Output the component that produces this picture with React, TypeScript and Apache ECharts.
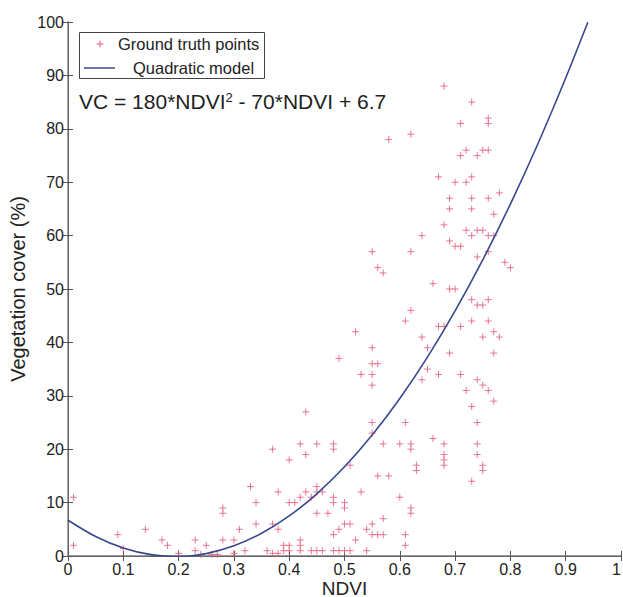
import React, { useEffect, useRef } from "react";
import * as echarts from "echarts";

// Ground truth points: [NDVI, Vegetation cover %]
const groundTruthPoints: number[][] = [
  [0.01, 11], [0.01, 2], [0.09, 4], [0.1, 1.4], [0.14, 5], [0.17, 3], [0.18, 2], [0.2, 0.5],
  [0.23, 3], [0.23, 1], [0.24, 0.3], [0.25, 2], [0.26, 0.3], [0.27, 0.3],
  [0.28, 9], [0.28, 8], [0.28, 3], [0.3, 3], [0.31, 5], [0.32, 1], [0.3, 0.5],
  [0.33, 13], [0.34, 10], [0.34, 6],
  [0.37, 20], [0.38, 12], [0.37, 6], [0.38, 5], [0.36, 1], [0.37, 0.5], [0.38, 0.5],
  [0.39, 2], [0.39, 1], [0.4, 2], [0.4, 1], [0.4, 18], [0.4, 10], [0.41, 10], [0.42, 11], [0.42, 21], [0.42, 3], [0.42, 2], [0.42, 1],
  [0.43, 19], [0.43, 12], [0.43, 27], [0.44, 11], [0.44, 1], [0.45, 13], [0.45, 12], [0.45, 21], [0.45, 8], [0.45, 1], [0.46, 12], [0.46, 1], [0.47, 8],
  [0.48, 21], [0.48, 20], [0.48, 11], [0.48, 10], [0.48, 4], [0.49, 5], [0.48, 1],
  [0.5, 10], [0.5, 9], [0.5, 6], [0.5, 1], [0.49, 1], [0.51, 6], [0.51, 1], [0.51, 17], [0.52, 3],
  [0.49, 37], [0.52, 42], [0.53, 34], [0.53, 12], [0.54, 5], [0.54, 1],
  [0.55, 39], [0.55, 36], [0.55, 34], [0.55, 32], [0.55, 25], [0.55, 23], [0.55, 6], [0.55, 4], [0.55, 57], [0.56, 36], [0.56, 15], [0.56, 4], [0.56, 54], [0.57, 53],
  [0.57, 21], [0.57, 7], [0.57, 4], [0.58, 15], [0.58, 78],
  [0.6, 21], [0.6, 11], [0.61, 25], [0.61, 44], [0.61, 4], [0.61, 2], [0.62, 46], [0.62, 21], [0.62, 20], [0.62, 9], [0.62, 8], [0.62, 57], [0.62, 79],
  [0.63, 17], [0.63, 16], [0.64, 60], [0.64, 41], [0.64, 33], [0.65, 39], [0.65, 35],
  [0.66, 51], [0.66, 22], [0.67, 71], [0.67, 43], [0.67, 34],
  [0.68, 88], [0.68, 62], [0.68, 43], [0.68, 21], [0.68, 19], [0.68, 18], [0.68, 17],
  [0.69, 67], [0.69, 65], [0.69, 59], [0.69, 50], [0.69, 38],
  [0.7, 70], [0.7, 58], [0.71, 58], [0.7, 50], [0.71, 81], [0.71, 75], [0.71, 43], [0.71, 34],
  [0.72, 76], [0.72, 70], [0.72, 61], [0.72, 31],
  [0.73, 85], [0.73, 71], [0.73, 67], [0.73, 65], [0.73, 60], [0.73, 48], [0.73, 44], [0.73, 28], [0.73, 14],
  [0.74, 75], [0.74, 61], [0.74, 56], [0.74, 47], [0.74, 33], [0.74, 25], [0.74, 21], [0.74, 19],
  [0.75, 76], [0.75, 61], [0.75, 47], [0.75, 41], [0.75, 32], [0.75, 17], [0.75, 16],
  [0.76, 82], [0.76, 81], [0.76, 76], [0.76, 67], [0.76, 60], [0.76, 57], [0.76, 48], [0.76, 44], [0.76, 31],
  [0.77, 64], [0.77, 60], [0.77, 42], [0.77, 38], [0.77, 29],
  [0.78, 68], [0.78, 41], [0.79, 55], [0.8, 54],
];

// Quadratic model curve as drawn
const modelNdvi: number[] = [0, 0.05, 0.1, 0.15, 0.2, 0.25, 0.3, 0.35, 0.4, 0.45, 0.5, 0.55, 0.6, 0.65, 0.7, 0.75, 0.8, 0.85, 0.9, 0.94];
const modelCover: number[] = [6.7, 3.65, 1.5, 0.25, -0.1, 0.45, 1.9, 4.25, 7.5, 11.65, 16.7, 22.65, 29.5, 37.25, 45.9, 55.45, 65.9, 77.25, 89.5, 99.95];

const legendLabels = ["Ground truth points", "Quadratic model"];
const equationText = "VC = 180*NDVI{sup|2} - 70*NDVI + 6.7";

const POINT_COLOR = "#e4587a";
const LINE_COLOR = "#38488e";
const FONT = "'Liberation Sans', Arial, Helvetica, sans-serif";

export default function App() {
  const ref = useRef<HTMLDivElement>(null);
  useEffect(() => {
    if (!ref.current) return;
    const chart = echarts.init(ref.current, null, { renderer: "svg" });
    const tickStyle = { inside: true, length: 5, lineStyle: { color: "#555" } };
    const lineStyleAxis = { show: true, lineStyle: { color: "#666", width: 1 } };
    chart.setOption({
      animation: false,
      backgroundColor: "#fff",
      grid: { left: 68, right: 2, top: 22, bottom: 41, containLabel: false, outerBoundsMode: "none" },
      xAxis: [
        {
          type: "value", min: 0, max: 1, interval: 0.1, position: "bottom",
          name: "NDVI", nameLocation: "middle", nameGap: 23, nameMoveOverlap: false,
          nameTextStyle: { fontFamily: FONT, fontSize: 19, lineHeight: 18, color: "#222", verticalAlign: "top" },
          axisLine: { show: true, lineStyle: { color: "#999", width: 2 } },
          axisTick: tickStyle,
          axisLabel: {
            fontFamily: FONT, fontSize: 16, lineHeight: 17, color: "#222", margin: 5, alignMaxLabel: "right",
            formatter: (v: number) => String(+v.toFixed(1)),
          },
          splitLine: { show: false },
        },
        {
          type: "value", min: 0, max: 1, interval: 0.1, position: "top",
          axisLine: lineStyleAxis, axisTick: tickStyle, axisLabel: { show: false }, splitLine: { show: false },
        },
      ],
      yAxis: [
        {
          type: "value", min: 0, max: 100, interval: 10, position: "left",
          name: "Vegetation cover (%)", nameLocation: "middle", nameGap: 40, nameMoveOverlap: false,
          nameTextStyle: { fontFamily: FONT, fontSize: 20, color: "#222" },
          axisLine: { show: true, lineStyle: { color: "#888", width: 1.5 } },
          axisTick: tickStyle,
          axisLabel: { fontFamily: FONT, fontSize: 16, color: "#222", margin: 4 },
          splitLine: { show: false },
        },
        {
          type: "value", min: 0, max: 100, interval: 10, position: "right",
          axisLine: lineStyleAxis, axisTick: tickStyle, axisLabel: { show: false }, splitLine: { show: false },
        },
      ],
      series: [
        {
          name: legendLabels[0],
          type: "scatter",
          data: groundTruthPoints,
          symbol: "path://M5,0L5,10M0,5L10,5",
          symbolSize: 7,
          itemStyle: { color: "none", borderColor: POINT_COLOR, borderWidth: 1 },
          silent: true,
        },
        {
          name: legendLabels[1],
          type: "line",
          data: modelNdvi.map((x, i) => [x, modelCover[i]]),
          smooth: 0.3,
          showSymbol: false,
          lineStyle: { color: LINE_COLOR, width: 1.6 },
          silent: true,
          z: 3,
        },
      ],
      graphic: [
        {
          type: "rect", shape: { x: 79.5, y: 32.5, width: 185, height: 46 },
          style: { fill: "#fff", stroke: "#444", lineWidth: 1 }, z: 10,
        },
        { type: "line", shape: { x1: 96.5, y1: 44, x2: 103.5, y2: 44 }, style: { stroke: POINT_COLOR, lineWidth: 1 }, z: 11 },
        { type: "line", shape: { x1: 100, y1: 40.5, x2: 100, y2: 47.5 }, style: { stroke: POINT_COLOR, lineWidth: 1 }, z: 11 },
        {
          type: "text", x: 118, y: 44, z: 11,
          style: { text: legendLabels[0], fontFamily: FONT, fontSize: 16.5, fill: "#222", verticalAlign: "middle" },
        },
        { type: "line", shape: { x1: 84, y1: 68, x2: 115, y2: 68 }, style: { stroke: LINE_COLOR, lineWidth: 1.5 }, z: 11 },
        {
          type: "text", x: 133, y: 68, z: 11,
          style: { text: legendLabels[1], fontFamily: FONT, fontSize: 16.5, fill: "#222", verticalAlign: "middle" },
        },
        {
          type: "text", x: 79, y: 101, z: 11,
          style: {
            text: equationText, fontFamily: FONT, fontSize: 21, fill: "#222", verticalAlign: "middle",
            rich: { sup: { fontFamily: FONT, fontSize: 13, verticalAlign: "top", fill: "#222" } },
          },
        },
      ],
    });
    return () => chart.dispose();
  }, []);
  return <div ref={ref} style={{ position: "fixed", left: 0, top: 0, width: 623, height: 597 }} />;
}
